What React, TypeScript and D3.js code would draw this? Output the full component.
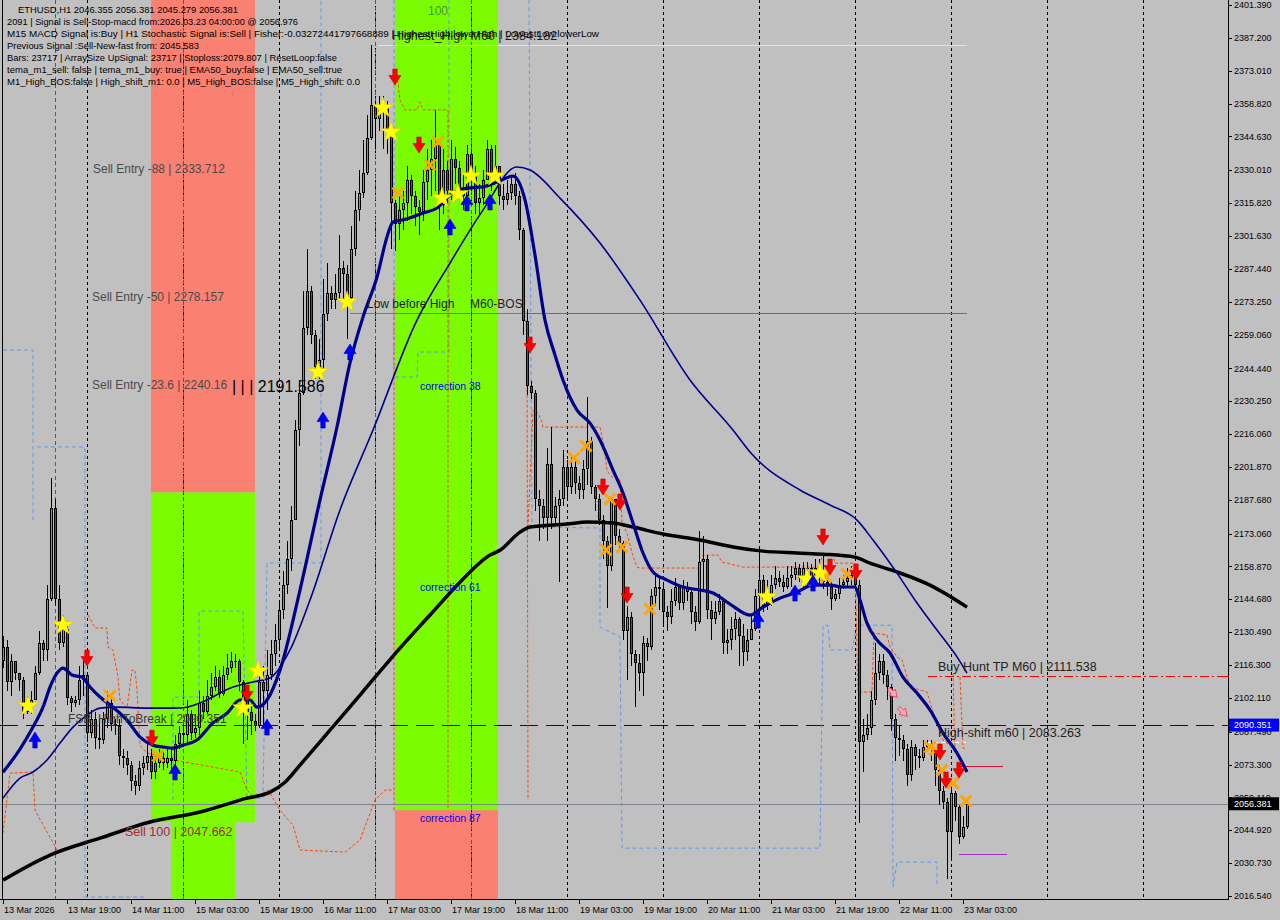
import * as d3 from 'd3';

// ETHUSD H1, one bar per hour from 13 Mar 03:00 to 23 Mar 04:00
const FIRST_OPEN = 2118;
const closes = [
  2124, 2109, 2118, 2113, 2110, 2096, 2099, 2101, 2113, 2126,
  2123, 2145, 2184, 2145, 2126, 2132, 2102, 2100, 2101, 2110,
  2112, 2087, 2093, 2085, 2084, 2093, 2100, 2091, 2090, 2077,
  2076, 2073, 2066, 2064, 2072, 2074, 2077, 2070, 2074, 2076,
  2074, 2076, 2075, 2082, 2087, 2086, 2095, 2087, 2089, 2100,
  2096, 2103, 2107, 2111, 2104, 2112, 2115, 2118, 2118, 2109,
  2101, 2096, 2092, 2090, 2109, 2105, 2112, 2121, 2127, 2140,
  2151, 2162, 2179, 2218, 2234, 2262, 2278, 2259, 2245, 2248,
  2268, 2277, 2274, 2277, 2288, 2285, 2275, 2296, 2313, 2320,
  2329, 2344, 2358, 2352, 2356, 2358, 2347, 2316, 2307, 2313,
  2316, 2326, 2319, 2314, 2312, 2325, 2330, 2335, 2341, 2315,
  2330, 2321, 2335, 2331, 2321, 2319, 2337, 2328, 2316, 2318,
  2326, 2339, 2329, 2332, 2319, 2317, 2320, 2324, 2319, 2304,
  2265, 2237, 2234, 2188, 2185, 2180, 2203, 2180, 2185, 2188,
  2202, 2193, 2202, 2195, 2192, 2201, 2213, 2193, 2188, 2179,
  2170, 2159, 2188, 2172, 2169, 2131, 2137, 2121, 2117, 2113,
  2126, 2124, 2146, 2150, 2149, 2139, 2137, 2144, 2150, 2143,
  2150, 2148, 2139, 2135, 2161, 2162, 2140, 2136, 2139, 2144,
  2126, 2127, 2132, 2136, 2129, 2122, 2127, 2132, 2146, 2153,
  2142, 2144, 2151, 2154, 2152, 2150, 2154, 2155, 2158, 2154,
  2158, 2158, 2153, 2158, 2157, 2152, 2150, 2145, 2147, 2151,
  2152, 2154, 2155, 2151, 2083, 2086, 2089, 2101, 2113, 2118,
  2112, 2107, 2093, 2085, 2084, 2080, 2069, 2081, 2077, 2076,
  2081, 2082, 2080, 2071, 2062, 2057, 2044, 2061, 2055, 2042,
  2046.355, 2056.381,
];
const highs = [
  2129, 2127, 2121, 2118, 2113, 2111, 2103, 2105, 2116, 2131,
  2127, 2151, 2197, 2188, 2151, 2138, 2134, 2103, 2103, 2116,
  2118, 2113, 2097, 2096, 2093, 2096, 2105, 2102, 2093, 2093,
  2080, 2079, 2075, 2069, 2075, 2077, 2082, 2080, 2077, 2080,
  2079, 2080, 2080, 2086, 2090, 2091, 2101, 2097, 2095, 2105,
  2103, 2110, 2113, 2116, 2114, 2116, 2121, 2122, 2121, 2119,
  2110, 2103, 2099, 2095, 2112, 2116, 2123, 2127, 2134, 2144,
  2157, 2170, 2185, 2222, 2237, 2278, 2296, 2280, 2261, 2257,
  2283, 2290, 2280, 2285, 2302, 2291, 2289, 2306, 2321, 2330,
  2343, 2354, 2384, 2360, 2362, 2362, 2360, 2350, 2317, 2319,
  2321, 2332, 2328, 2321, 2317, 2330, 2339, 2343, 2356, 2343,
  2339, 2334, 2343, 2340, 2334, 2328, 2341, 2339, 2332, 2324,
  2330, 2343, 2341, 2341, 2326, 2324, 2326, 2328, 2329, 2321,
  2305, 2270, 2239, 2235, 2192, 2188, 2210, 2219, 2189, 2192,
  2209, 2205, 2207, 2205, 2198, 2205, 2232, 2215, 2194, 2190,
  2181, 2172, 2189, 2188, 2175, 2170, 2142, 2139, 2123, 2121,
  2129, 2128, 2149, 2155, 2154, 2152, 2142, 2149, 2154, 2151,
  2153, 2152, 2149, 2142, 2174, 2172, 2164, 2144, 2144, 2147,
  2144, 2132, 2137, 2139, 2137, 2134, 2132, 2138, 2149, 2166,
  2155, 2153, 2155, 2159, 2157, 2155, 2159, 2159, 2161, 2160,
  2161, 2161, 2160, 2162, 2162, 2164, 2155, 2152, 2149, 2154,
  2155, 2158, 2159, 2159, 2153, 2093, 2095, 2105, 2126, 2121,
  2121, 2114, 2108, 2095, 2090, 2086, 2082, 2084, 2082, 2080,
  2084, 2084, 2084, 2080, 2073, 2064, 2059, 2064, 2062, 2056,
  2051, 2056.381,
];
const lows = [
  2115, 2105, 2103, 2110, 2105, 2093, 2095, 2095, 2101, 2112,
  2118, 2118, 2144, 2142, 2123, 2124, 2099, 2096, 2098, 2099,
  2103, 2083, 2085, 2080, 2080, 2082, 2089, 2088, 2086, 2073,
  2072, 2069, 2062, 2060, 2062, 2069, 2071, 2067, 2067, 2072,
  2071, 2072, 2071, 2070, 2080, 2082, 2083, 2084, 2085, 2086,
  2093, 2095, 2101, 2105, 2102, 2103, 2110, 2113, 2115, 2105,
  2082, 2084, 2086, 2088, 2089, 2090, 2097, 2110, 2116, 2123,
  2136, 2147, 2157, 2196, 2211, 2233, 2259, 2255, 2240, 2240,
  2244, 2265, 2270, 2270, 2274, 2270, 2257, 2274, 2293, 2308,
  2318, 2328, 2343, 2339, 2347, 2339, 2337, 2296, 2295, 2300,
  2304, 2308, 2311, 2306, 2302, 2308, 2317, 2319, 2321, 2304,
  2311, 2315, 2317, 2324, 2317, 2313, 2317, 2321, 2311, 2311,
  2315, 2326, 2321, 2324, 2315, 2313, 2315, 2317, 2315, 2300,
  2259, 2233, 2231, 2183, 2170, 2175, 2170, 2175, 2177, 2152,
  2185, 2188, 2190, 2190, 2188, 2188, 2194, 2190, 2183, 2177,
  2162, 2141, 2157, 2168, 2166, 2127, 2110, 2116, 2098, 2105,
  2103, 2118, 2123, 2142, 2140, 2134, 2131, 2134, 2142, 2140,
  2140, 2144, 2134, 2131, 2134, 2149, 2136, 2127, 2134, 2138,
  2121, 2121, 2123, 2127, 2116, 2116, 2118, 2127, 2131, 2136,
  2139, 2140, 2142, 2149, 2150, 2148, 2149, 2150, 2153, 2152,
  2150, 2153, 2151, 2150, 2151, 2149, 2146, 2140, 2144, 2145,
  2149, 2150, 2151, 2149, 2048, 2070, 2084, 2086, 2099, 2110,
  2108, 2101, 2088, 2075, 2077, 2075, 2064, 2066, 2071, 2072,
  2075, 2079, 2075, 2064, 2056, 2054, 2024, 2032, 2049, 2039,
  2041, 2045.279,
];

// moving averages: [bar, price]
const emaFast = [
  [0, 2070], [4.25, 2080], [7.5, 2089.5], [10, 2098.1], [11.75, 2106.8], [13.5, 2112.8], [15, 2115],
  [17.25, 2112], [19.75, 2111.1], [21.75, 2106.8], [24.25, 2102.5], [27.5, 2098.1], [31, 2092.5],
  [34.25, 2085.2], [37.5, 2081.7], [40, 2080.9], [42.5, 2080.4], [45, 2081.7], [48.5, 2083.9],
  [52.5, 2091.3], [56, 2095.5], [59.25, 2101.2], [61.75, 2101.2], [63.5, 2098.1], [66, 2101.2],
  [69.25, 2114.1], [74.25, 2148.7], [79.25, 2187.6], [83.5, 2219.1], [86.75, 2246.8], [90, 2266.6],
  [93.5, 2283.9], [96, 2301.2], [97.5, 2307.7], [100, 2308.5], [105, 2311.5], [108.5, 2313.7],
  [111.75, 2319.3], [116, 2322.3], [120, 2322.8], [123.5, 2324.9], [127.5, 2327.5], [130.5, 2317.2],
  [133, 2293.4], [135.5, 2265.3], [138, 2250.2], [140, 2239.4], [143.5, 2226.4], [146.75, 2220.8],
  [149.25, 2213.5], [152.5, 2200.5], [155, 2190.6], [157.5, 2177.6], [160, 2164.7], [162.5, 2156.5],
  [166, 2153], [170, 2150], [174.25, 2148.7], [177.5, 2147.4], [181.75, 2142.6], [186.75, 2137.9],
  [190, 2141.3], [194.25, 2145.2], [198.5, 2147.8], [202.5, 2150.8], [206.75, 2150.8], [210, 2150],
  [213, 2150], [214.25, 2144.4], [216, 2134.4], [218.5, 2127.1], [221.75, 2121.5], [225, 2111.1],
  [228.5, 2104.2], [231.75, 2096.9], [235, 2086.9], [238.5, 2078.3], [241, 2070.1],
];
const emaMid = [
  [0, 2058.8], [4.25, 2067.5], [7.5, 2070.1], [11, 2075.3], [14.25, 2082.6], [17.5, 2089.5],
  [21, 2094.7], [24.25, 2097.7], [28.5, 2098.1], [36, 2097.7], [42.5, 2097.7], [46, 2098.1],
  [49.25, 2099.9], [57.5, 2106.8], [62.5, 2109], [66.75, 2110.7], [71.75, 2122.8], [76.75, 2144.4],
  [84.25, 2183.3], [92.5, 2217.8], [103.5, 2265.3], [111.75, 2289.9], [120, 2312.8], [128.5, 2331.4],
  [131.75, 2330.1], [139.25, 2318], [149.25, 2298.6], [159.25, 2273.9], [171.75, 2239.4],
  [182.5, 2217.8], [186.75, 2208.3], [199.25, 2191.9], [206.75, 2185.4], [213.5, 2178.9],
  [217.5, 2170.3], [223.5, 2156], [228.5, 2143.1], [233.5, 2131.4], [238.5, 2119.8], [241, 2112.8],
];
const maSlow = [
  [0, 2023.4], [11.75, 2034.2], [24.25, 2041.5], [36.75, 2048.5], [49.25, 2052.8], [61, 2058.8],
  [66.75, 2061.4], [70.5, 2065.7], [74.25, 2073.1], [81.75, 2088.2], [89.25, 2103.3], [99.25, 2123.6],
  [106.75, 2137.9], [114.25, 2152.1], [121.75, 2163.8], [124.25, 2165.9], [129.25, 2173.7],
  [131.75, 2175.9], [141, 2177.2], [146, 2178.1], [152.5, 2177.6], [157.5, 2175.9], [165, 2172.9],
  [174.25, 2170.3], [182.5, 2167.3], [190, 2165.5], [198.5, 2164.7], [205, 2164.2], [213, 2162.9],
  [216.75, 2160.3], [223.5, 2156.5], [231.75, 2150.8], [241, 2141.3],
];

// dashed step bands
const orangeBands = [
  [[0, 2043.7], [1.75, 2069.6], [7.5, 2070.1], [8, 2053.6], [13.5, 2036.4]],
  [[21.25, 2137.9], [23, 2132.3], [26, 2132.3], [26.25, 2124], [27.5, 2122.8], [28.75, 2111.1],
    [29.25, 2101.2], [31, 2097.7], [32.25, 2114.1], [33, 2114.1], [33.5, 2105.5], [34.25, 2081.7],
    [36, 2078.3], [42.5, 2075.3], [52.5, 2072.2], [59.25, 2070.1], [61, 2062.3], [63, 2058.8],
    [66.25, 2062.3], [69.25, 2053.6], [72.5, 2047.2], [74.25, 2036.4], [85.5, 2035.5], [89.25, 2040.7],
    [93, 2058], [95.5, 2062.3], [97.75, 2062.3]],
  [[97.75, 2053.6], [97.75, 2281.3]],
  [[98.5, 2371.2], [99.25, 2360.4], [100.5, 2356.1], [103.5, 2356.1], [104.25, 2359.5], [105, 2356.1],
    [111.25, 2356.1], [111.25, 2053.6]],
  [[130, 2271.8], [131, 2261], [131.25, 2058]],
  [[131.25, 2175.9], [132.5, 2226.4], [133.75, 2225.1], [134.75, 2221.2], [135, 2219.1], [149.25, 2219.1],
    [150.25, 2210.4], [151, 2200.5], [152.25, 2197.5], [154.25, 2196.2], [154.75, 2177.6], [156, 2173.3],
    [157.25, 2164.7], [158.5, 2158.6], [159.25, 2158.2], [174.25, 2158.2], [175, 2163.8], [178.75, 2163.8],
    [179.75, 2160.8], [185, 2158.6], [204.25, 2158.6], [204.75, 2163.8], [207.5, 2163.8], [208, 2160.3],
    [213, 2160.3], [213.75, 2104.6], [217.25, 2104.6], [217.75, 2130.1], [221, 2129.3], [221.75, 2124.1],
    [223.5, 2119.8], [224.75, 2118.5], [226.75, 2106.8], [231, 2104.6], [231.75, 2100.3], [233, 2093.4],
    [235, 2083.9], [236.75, 2081.7]],
  [[237.5, 2112.8], [238, 2079.6]],
  [[239.25, 2111.1], [240, 2080.4], [241, 2080.4]],
];
const blueBands = [
  [[0, 2252.4], [7.5, 2252.4], [7.5, 2178.1]],
  [[8.5, 2210.5], [20.5, 2210.5], [20.5, 2016.1], [36, 2016.1]],
  [[42.5, 2058], [42.5, 2102.5], [49, 2102.5], [49, 2139.6], [60, 2139.6], [61, 2058.8], [65, 2058.8],
    [66, 2160.4], [79.5, 2160.4], [79.5, 2403.5]],
  [[97.75, 2403.5], [97.75, 2240.7], [103.5, 2240.7], [103.75, 2251.5], [111.5, 2251.5], [111.5, 2403.5]],
  [[131.5, 2403.5], [132.25, 2175.9], [149.25, 2175.5], [149.25, 2132.7], [154.25, 2128.4],
    [154.75, 2037.2], [204.25, 2037.2], [205, 2133.5], [206.25, 2133.5], [206.75, 2122.8],
    [212.25, 2122.8], [213.5, 2133.5], [222.25, 2133.5], [222.5, 2020.4], [223.5, 2031.2],
    [233.5, 2031.2], [233.5, 2020.4]],
];

// signal markers: [bar, price]
const stars = [
  [6.25, 2098.6], [15, 2133.5], [60, 2097.7], [63.75, 2113.7], [78.75, 2242.9], [86, 2273.1],
  [95, 2356.9], [97, 2346.5], [109.75, 2318], [113.75, 2319.7], [117, 2327.5], [123, 2327.5],
  [191, 2145.7], [201, 2153.4], [204.25, 2156],
];
const crosses = [
  [26.75, 2102.9], [38.75, 2077], [98.75, 2320.2], [106.75, 2332.3], [108.75, 2342.2], [142.75, 2205.7],
  [145.75, 2210.9], [151.75, 2188], [150.75, 2166], [154.75, 2167.3], [161.75, 2140.5], [205.75, 2154.3],
  [211, 2155.6], [231.75, 2080.9], [233, 2079.6], [234.75, 2070.9], [237.5, 2065.3], [240.75, 2057.6],
];
const sellArrows = [
  [21, 2119.3], [37.25, 2084.7], [61, 2104.2], [98, 2370.3], [104, 2340.9], [131.75, 2254.5],
  [150, 2193.2], [154.25, 2186.7], [156, 2146.5], [205, 2171.6], [206.75, 2158.6], [213.25, 2156.5],
  [234.25, 2078.7], [235.75, 2066.6], [239, 2070.9],
];
const buyArrows = [
  [8, 2083.9], [43, 2070.1], [66, 2089.5], [80, 2222.1], [86.75, 2251.5], [111.75, 2305.5],
  [116, 2315.9], [121.75, 2316.3], [188.75, 2135.7], [198, 2147.4], [202.5, 2151.7],
];
const hollowArrows = [[222.5, 2104.2], [225, 2096]];

const priceTicks = [
  2401.39, 2387.2, 2373.01, 2358.82, 2344.63, 2330.01, 2315.82, 2301.63, 2287.44, 2273.25,
  2259.06, 2244.44, 2230.25, 2216.06, 2201.87, 2187.68, 2173.06, 2158.87, 2144.68, 2130.49,
  2116.3, 2102.11, 2087.49, 2073.3, 2059.11, 2044.92, 2030.73, 2016.54,
];
const timeLabels = [
  '13 Mar 2026', '13 Mar 19:00', '14 Mar 11:00', '15 Mar 03:00', '15 Mar 19:00', '16 Mar 11:00',
  '17 Mar 03:00', '17 Mar 19:00', '18 Mar 11:00', '19 Mar 03:00', '19 Mar 19:00', '20 Mar 11:00',
  '21 Mar 03:00', '21 Mar 19:00', '22 Mar 11:00', '23 Mar 03:00',
];
const daySeparators = [21, 45, 69, 93, 117, 141, 165, 189, 213, 237, 261, 285];
const sessionSeparators = [13, 45, 93, 117];

const infoLines = [
  'ETHUSD,H1  2046.355 2056.381 2045.279 2056.381',
  '2091 | Signal is Sell-Stop-macd from:2026.03.23 04:00:00 @ 2056.976',
  'M15 MACD Signal is:Buy | H1 Stochastic Signal is:Sell | Fisher:-0.03272441797668889 | HighestHigh:lowerHigh | LowestLow:lowerLow',
  'Previous Signal :Sell-New-fast from: 2045.583',
  'Bars: 23717 | ArraySize UpSignal: 23717 | Stoploss:2079.807 | ResetLoop:false',
  'tema_m1_sell: false | tema_m1_buy: true | EMA50_buy:false | EMA50_sell:true',
  'M1_High_BOS:false | High_shift_m1: 0.0 | M5_High_BOS:false | M5_High_shift: 0.0',
];
const infoWidths = [220, 291, 592, 192, 330, 335, 353];

const PLOT_R = 1228;
const PLOT_B = 899;
const FONT = '"Liberation Sans", Arial, sans-serif';
const BULL = '#3cb878';
const BEAR = '#b8283c';

const x = d3.scaleLinear().domain([0, 1]).range([3, 7]);
const y = d3.scaleLinear().domain([2016.54, 2401.39]).range([896, 5]);

const poly = d3.line<number[]>().x(d => x(d[0])).y(d => y(d[1]));
const smooth = d3.line<number[]>().x(d => x(d[0])).y(d => y(d[1])).curve(d3.curveMonotoneX);

const starPath = d3.symbol().type(d3.symbolStar).size(135)() as string;
const downArrow = 'M-2.2,-8H2.2V-1.5H6L0,8L-6,-1.5H-2.2Z';
const upArrow = 'M-2.2,8H2.2V1.5H6L0,-8L-6,1.5H-2.2Z';

export default function App() {
  const opens = [FIRST_OPEN, ...closes.slice(0, -1)];
  const xEnd = x(241);

  return (
    <svg
      width={1280}
      height={920}
      fontFamily={FONT}
      style={{ position: 'absolute', left: 0, top: 0, display: 'block' }}
    >
      <rect width={1280} height={920} fill="#c0c0c0" />

      {/* zones */}
      <rect x={x(37)} y={0} width={x(63) - x(37)} height={y(2190.85)} fill="#fa8072" />
      <rect x={x(37)} y={y(2190.85)} width={x(63) - x(37)} height={y(2048.4) - y(2190.85)} fill="#7cfc00" />
      <rect x={x(42)} y={y(2048.4)} width={x(58) - x(42)} height={PLOT_B - y(2048.4)} fill="#7cfc00" />
      <rect x={x(98)} y={0} width={x(123.75) - x(98)} height={y(2053.6)} fill="#7cfc00" />
      <rect x={x(98)} y={y(2053.6)} width={x(123.75) - x(98)} height={PLOT_B - y(2053.6)} fill="#fa8072" />

      {/* separators */}
      {daySeparators.map(i => (
        <line key={'d' + i} x1={x(i) + 0.5} x2={x(i) + 0.5} y1={0} y2={PLOT_B} stroke="#000" strokeDasharray="3,3" />
      ))}
      {sessionSeparators.map(i => (
        <line key={'s' + i} x1={x(i) + 0.5} x2={x(i) + 0.5} y1={0} y2={PLOT_B} stroke="#c0207a" strokeDasharray="4,3" />
      ))}

      {/* level lines */}
      <line x1={0} x2={PLOT_R} y1={Math.round(y(2090.351)) + 0.5} y2={Math.round(y(2090.351)) + 0.5} stroke="#0000a0" strokeDasharray="18,8" />
      <line x1={0} x2={PLOT_R} y1={Math.round(y(2056.381)) + 0.5} y2={Math.round(y(2056.381)) + 0.5} stroke="#7d8791" />
      <line x1={x(231.25)} x2={PLOT_R} y1={Math.round(y(2111.538)) + 0.5} y2={Math.round(y(2111.538)) + 0.5} stroke="#ff0000" strokeDasharray="9,3,2,3" />
      <line x1={x(93.75)} x2={xEnd} y1={Math.round(y(2384.182)) + 0.5} y2={Math.round(y(2384.182)) + 0.5} stroke="#dcf2a8" />
      <line x1={x(86.75)} x2={xEnd} y1={Math.round(y(2268.3)) + 0.5} y2={Math.round(y(2268.3)) + 0.5} stroke="#6e6e6e" />
      <line x1={x(86.75)} x2={x(131.25)} y1={Math.round(y(2268.3)) + 0.5} y2={Math.round(y(2268.3)) + 0.5} stroke="#e8501e" />
      <line x1={x(231)} x2={xEnd} y1={Math.round(y(2083.263)) + 0.5} y2={Math.round(y(2083.263)) + 0.5} stroke="#ffffff" strokeDasharray="4,3" />
      <line x1={x(239.25)} x2={x(250)} y1={Math.round(y(2072.8)) + 0.5} y2={Math.round(y(2072.8)) + 0.5} stroke="#dc143c" />
      <line x1={x(239)} x2={x(251)} y1={Math.round(y(2034.6)) + 0.5} y2={Math.round(y(2034.6)) + 0.5} stroke="#9932cc" />

      {/* step bands */}
      {blueBands.map((b, k) => (
        <path key={'b' + k} d={poly(b) as string} fill="none" stroke="#6495ed" strokeDasharray="4,3" />
      ))}
      {orangeBands.map((b, k) => (
        <path key={'o' + k} d={poly(b) as string} fill="none" stroke="#ff4500" strokeDasharray="3,2" />
      ))}

      {/* candles */}
      {closes.map((c, i) => {
        const o = opens[i];
        const hi = Math.max(highs[i], o, c);
        const lo = Math.min(lows[i], o, c);
        const cx = Math.round(x(i));
        const top = Math.round(y(Math.max(o, c)));
        const bot = Math.round(y(Math.min(o, c)));
        return (
          <g key={'c' + i}>
            <line x1={cx + 0.5} x2={cx + 0.5} y1={Math.round(y(hi))} y2={Math.round(y(lo))} stroke="#000" />
            {bot - top >= 2 ? (
              <rect x={cx - 0.5} y={top + 0.5} width={2} height={bot - top - 1} fill={c >= o ? BULL : BEAR} stroke="#000" />
            ) : (
              <line x1={cx - 1} x2={cx + 2} y1={top + 0.5} y2={top + 0.5} stroke="#000" />
            )}
          </g>
        );
      })}

      {/* averages */}
      <path d={smooth(maSlow) as string} fill="none" stroke="#000" strokeWidth={3.5} />
      <path d={smooth(emaMid) as string} fill="none" stroke="#000088" strokeWidth={1.6} />
      <path d={smooth(emaFast) as string} fill="none" stroke="#000088" strokeWidth={3.2} />

      {/* markers */}
      {crosses.map(([i, p], k) => (
        <g key={'x' + k} transform={`translate(${x(i)},${y(p)})`} stroke="#ffa500" strokeWidth={3}>
          <line x1={-5.5} y1={-5.5} x2={5.5} y2={5.5} />
          <line x1={-5.5} y1={5.5} x2={5.5} y2={-5.5} />
        </g>
      ))}
      {stars.map(([i, p], k) => (
        <path key={'st' + k} d={starPath} transform={`translate(${x(i)},${y(p)})`} fill="#ffff00" stroke="#e8c800" strokeWidth={0.6} />
      ))}
      {sellArrows.map(([i, p], k) => (
        <path key={'sa' + k} d={downArrow} transform={`translate(${x(i)},${y(p)})`} fill="#ff0000" stroke="#c00000" strokeWidth={0.6} />
      ))}
      {buyArrows.map(([i, p], k) => (
        <path key={'ba' + k} d={upArrow} transform={`translate(${x(i)},${y(p)})`} fill="#0000ff" stroke="#0000b0" strokeWidth={0.6} />
      ))}
      {hollowArrows.map(([i, p], k) => (
        <path key={'ha' + k} d={downArrow} transform={`translate(${x(i)},${y(p)}) rotate(-45) scale(0.75)`} fill="#ffb0b8" stroke="#ff2050" strokeWidth={1} />
      ))}

      {/* chart annotations */}
      <g fontSize={12} fill="#4a4a4a">
        <text x={x(22.5)} y={y(2333.712) + 11}>Sell Entry -88 | 2333.712</text>
        <text x={x(22.25)} y={y(2278.157) + 11}>Sell Entry -50 | 2278.157</text>
        <text x={x(22.25)} y={y(2240.16) + 11}>Sell Entry -23.6 | 2240.16</text>
      </g>
      <text x={x(57.25)} y={y(2240.16) + 14} fontSize={16} fill="#000">| | | 2191.586</text>
      <text x={x(30.5)} y={y(2047.662) + 12} fontSize={12.5} fill="#a52a2a">Sell 100 | 2047.662</text>
      <text x={x(16.25)} y={y(2090.351) - 2} fontSize={12} fill="#3a3a3a">FSB_HighToBreak | 2090.351</text>
      <text x={x(91)} y={y(2268.3) - 5} fontSize={12} fill="#1e1e1e">Low before High</text>
      <text x={x(116.75)} y={y(2268.3) - 5} fontSize={12} fill="#1e1e1e">M60-BOS</text>
      <text x={x(28)} y={39} fontSize={13} fill="#f4a070" opacity={0.8}>Sell Stop | 2316.714</text>
      <text x={x(97.25)} y={y(2384.182) - 5} fontSize={12.5} fill="#1e1e1e">Highest_High M60 | 2384.182</text>
      <text x={x(106.25)} y={15} fontSize={12} fill="#3c9a3c">100</text>
      <g fontSize={10.5} fill="#0000ff">
        <text x={x(104.25)} y={y(2240.16) + 12}>correction 38</text>
        <text x={x(104.25)} y={y(2149.9) + 4}>correction 61</text>
        <text x={x(104.25)} y={y(2050.2) + 4}>correction 87</text>
      </g>
      <text x={x(233.75)} y={y(2111.538) - 5} fontSize={12.5} fill="#222">Buy Hunt TP M60 | 2111.538</text>
      <text x={x(233.75)} y={y(2083.263) - 5} fontSize={12.5} fill="#222">High-shift m60 | 2083.263</text>

      {/* info panel */}
      <g fontSize={9.5} fill="#000">
        {infoLines.map((t, k) => (
          <text
            key={'i' + k}
            x={k === 0 ? 18 : 7}
            y={13 + k * 12}
            textLength={infoWidths[k]}
            lengthAdjust="spacingAndGlyphs"
          >
            {t}
          </text>
        ))}
      </g>

      {/* frame and axes */}
      <line x1={2.5} x2={2.5} y1={0} y2={PLOT_B} stroke="#000" />
      <line x1={PLOT_R + 0.5} x2={PLOT_R + 0.5} y1={0} y2={PLOT_B + 1} stroke="#000" />
      <line x1={0} x2={PLOT_R + 1} y1={PLOT_B + 0.5} y2={PLOT_B + 0.5} stroke="#000" />
      <g fontSize={9} fill="#000">
        {priceTicks.map(p => (
          <g key={'p' + p}>
            <line x1={PLOT_R} x2={PLOT_R + 4} y1={Math.round(y(p)) + 0.5} y2={Math.round(y(p)) + 0.5} stroke="#000" />
            <text x={PLOT_R + 6} y={y(p)} dy="0.35em">{p.toFixed(3)}</text>
          </g>
        ))}
        {timeLabels.map((t, k) => (
          <g key={'t' + k}>
            <line x1={x(k * 16) + 0.5} x2={x(k * 16) + 0.5} y1={PLOT_B} y2={PLOT_B + 5} stroke="#000" />
            <text x={x(k * 16) + 1} y={913}>{t}</text>
          </g>
        ))}
      </g>
      <line x1={PLOT_R - 2} x2={PLOT_R + 1} y1={Math.round(y(2111.538)) + 0.5} y2={Math.round(y(2111.538)) + 0.5} stroke="#ff0000" />
      <rect x={PLOT_R + 1} y={y(2090.351) - 6.5} width={50} height={13} fill="#0000ff" />
      <text x={PLOT_R + 6} y={y(2090.351)} dy="0.35em" fontSize={9} fill="#fff">2090.351</text>
      <rect x={PLOT_R + 1} y={y(2056.381) - 6.5} width={50} height={13} fill="#000" />
      <text x={PLOT_R + 6} y={y(2056.381)} dy="0.35em" fontSize={9} fill="#fff">2056.381</text>
    </svg>
  );
}
